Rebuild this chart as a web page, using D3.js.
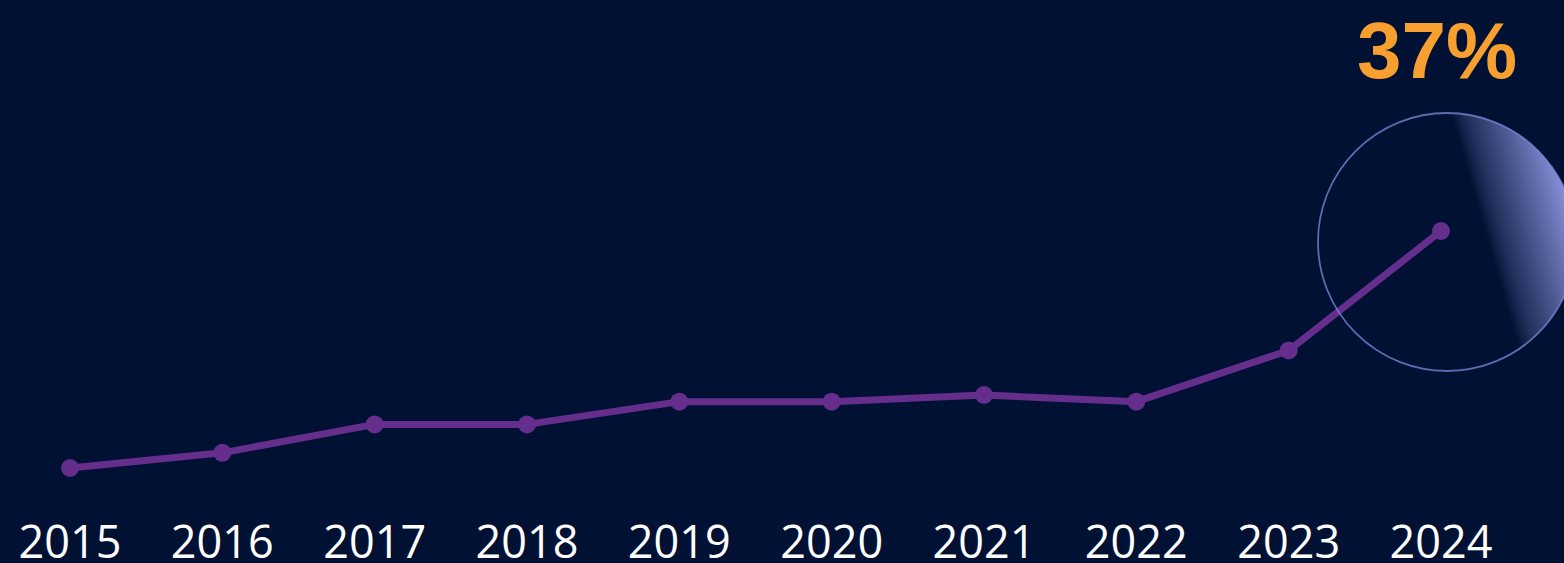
<!DOCTYPE html>
<html lang="en">
  <head>
    <meta charset="UTF-8">
    <title>Growth 2015-2024</title>
    <style>
      html, body { margin: 0; padding: 0; background: #001133; }
      svg { display: block; }
      .tick-label { font: 400 45px "Open Sans", sans-serif; fill: #ffffff; }
      .headline { font: 700 80px "Liberation Sans", Arial, sans-serif; fill: #f7a030; }
    </style>
  </head>
  <body>
    <script src="https://d3js.org/d3.v7.min.js"></script>
    <script>
      // values (share, %)
      const years = ["2015", "2016", "2017", "2018", "2019", "2020", "2021", "2022", "2023", "2024"];
      const values = [12, 13.6, 16.6, 16.6, 19, 19, 19.7, 19, 24.4, 37];
      const headline = "37%";

      const width = 1564;
      const height = 563;

      const svg = d3.select("body").append("svg")
        .attr("width", width)
        .attr("height", height);

      svg.append("rect")
        .attr("width", width)
        .attr("height", height)
        .attr("fill", "#001133");

      const x = d3.scalePoint()
        .domain(years)
        .range([70, 1441]);

      const y = d3.scaleLinear()
        .domain([12, 37])
        .range([468, 231]);

      const data = years.map((yr, i) => ({ year: yr, value: values[i] }));

      // line
      const line = d3.line()
        .x(d => x(d.year))
        .y(d => y(d.value));

      svg.append("path")
        .datum(data)
        .attr("d", line)
        .attr("fill", "none")
        .attr("stroke", "#652d8c")
        .attr("stroke-width", 7)
        .attr("stroke-linejoin", "round");

      svg.selectAll("circle.dot")
        .data(data)
        .enter()
        .append("circle")
        .attr("class", "dot")
        .attr("cx", d => x(d.year))
        .attr("cy", d => y(d.value))
        .attr("r", 9)
        .attr("fill", "#652d8c");

      // highlight bubble round the last point
      const last = data[data.length - 1];
      const cx = x(last.year) + 6;
      const cy = y(last.value) + 11;
      const r = 129;

      const defs = svg.append("defs");
      defs.append("clipPath").attr("id", "bubble-clip")
        .append("circle")
        .attr("cx", cx).attr("cy", cy).attr("r", r);

      const grad = defs.append("linearGradient")
        .attr("id", "shine")
        .attr("gradientUnits", "userSpaceOnUse")
        .attr("x1", cx + 40).attr("y1", cy - 2)
        .attr("x2", cx + 130).attr("y2", cy - 28);
      grad.append("stop").attr("offset", 0).attr("stop-color", "#9aa0f0").attr("stop-opacity", 0);
      grad.append("stop").attr("offset", 0.15).attr("stop-color", "#9aa0f0").attr("stop-opacity", 0.2);
      grad.append("stop").attr("offset", 1).attr("stop-color", "#9aa0f0").attr("stop-opacity", 0.92);

      svg.append("rect")
        .attr("clip-path", "url(#bubble-clip)")
        .attr("x", cx - r).attr("y", cy - r)
        .attr("width", r * 2).attr("height", r * 2)
        .attr("fill", "url(#shine)");

      svg.append("circle")
        .attr("cx", cx).attr("cy", cy).attr("r", r)
        .attr("fill", "none")
        .attr("stroke", "#7f88d8")
        .attr("stroke-opacity", 0.75)
        .attr("stroke-width", 1.8);

      // year labels
      svg.selectAll("text.tick-label")
        .data(years)
        .enter()
        .append("text")
        .attr("class", "tick-label")
        .attr("x", d => x(d))
        .attr("y", 558)
        .attr("text-anchor", "middle")
        .text(d => d);

      // headline value
      svg.append("text")
        .attr("class", "headline")
        .attr("x", x(last.year) - 4)
        .attr("y", 78)
        .attr("text-anchor", "middle")
        .text(headline);
    </script>
  </body>
</html>
